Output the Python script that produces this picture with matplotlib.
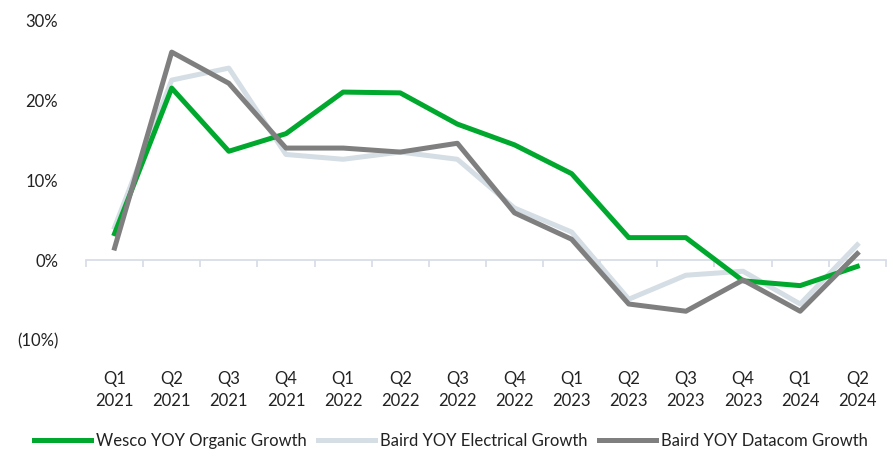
import matplotlib.pyplot as plt
from matplotlib.ticker import FuncFormatter, FixedLocator

plt.rcParams['font.family'] = ['Lato', 'DejaVu Sans']

quarters = ['Q1\n2021', 'Q2\n2021', 'Q3\n2021', 'Q4\n2021',
            'Q1\n2022', 'Q2\n2022', 'Q3\n2022', 'Q4\n2022',
            'Q1\n2023', 'Q2\n2023', 'Q3\n2023', 'Q4\n2023',
            'Q1\n2024', 'Q2\n2024']

wesco_organic = [3.3, 21.5, 13.6, 15.8, 21.0, 20.9, 17.0, 14.4, 10.8, 2.8, 2.8, -2.6, -3.2, -0.8]
baird_electrical = [4.1, 22.5, 24.0, 13.2, 12.6, 13.5, 12.6, 6.5, 3.5, -4.9, -1.9, -1.4, -5.5, 1.9]
baird_datacom = [1.5, 26.0, 22.1, 14.0, 14.0, 13.5, 14.6, 5.9, 2.6, -5.5, -6.4, -2.5, -6.4, 0.8]

fig = plt.figure(figsize=(8.93, 4.57), dpi=100)
ax = fig.add_axes([0.0963, 0.256, 0.8957, 0.70])

x = list(range(len(quarters)))
ax.plot(x, wesco_organic, color='#00A82D', lw=3.6, label='Wesco YOY Organic Growth', zorder=3)
ax.plot(x, baird_electrical, color='#D5DEE4', lw=3.6, label='Baird YOY Electrical Growth', zorder=2)
ax.plot(x, baird_datacom, color='#7F7F7F', lw=3.6, label='Baird YOY Datacom Growth', zorder=4)

ax.set_xlim(-0.5, len(quarters) - 0.5)
ax.set_ylim(-10, 30)
ax.set_yticks([-10, 0, 10, 20, 30])
ax.yaxis.set_major_formatter(FuncFormatter(lambda v, p: f'({abs(v):.0f}%)' if v < 0 else f'{v:.0f}%'))

for s in ['top', 'right', 'left']:
    ax.spines[s].set_visible(False)
ax.spines['bottom'].set_position(('data', 0))
ax.spines['bottom'].set_color('#D6DCE5')
ax.spines['bottom'].set_linewidth(1.2)

ax.set_xticks(x)
ax.set_xticklabels(quarters, linespacing=1.45)
ax.xaxis.set_minor_locator(FixedLocator([i - 0.5 for i in range(len(quarters) + 1)]))
ax.tick_params(axis='x', which='major', length=0, pad=80, labelsize=12, labelcolor='#222222')
ax.tick_params(axis='x', which='minor', length=5, width=1.2, color='#D6DCE5', direction='out')
ax.tick_params(axis='y', length=0, pad=20, labelsize=12, labelcolor='#222222')

fig.legend(loc='lower center', bbox_to_anchor=(0.505, -0.015), ncol=3, frameon=False,
           fontsize=12, handlelength=3.4, handletextpad=0.3, columnspacing=0.7,
           labelcolor='#222222')

fig.savefig('out.png', dpi=100)
